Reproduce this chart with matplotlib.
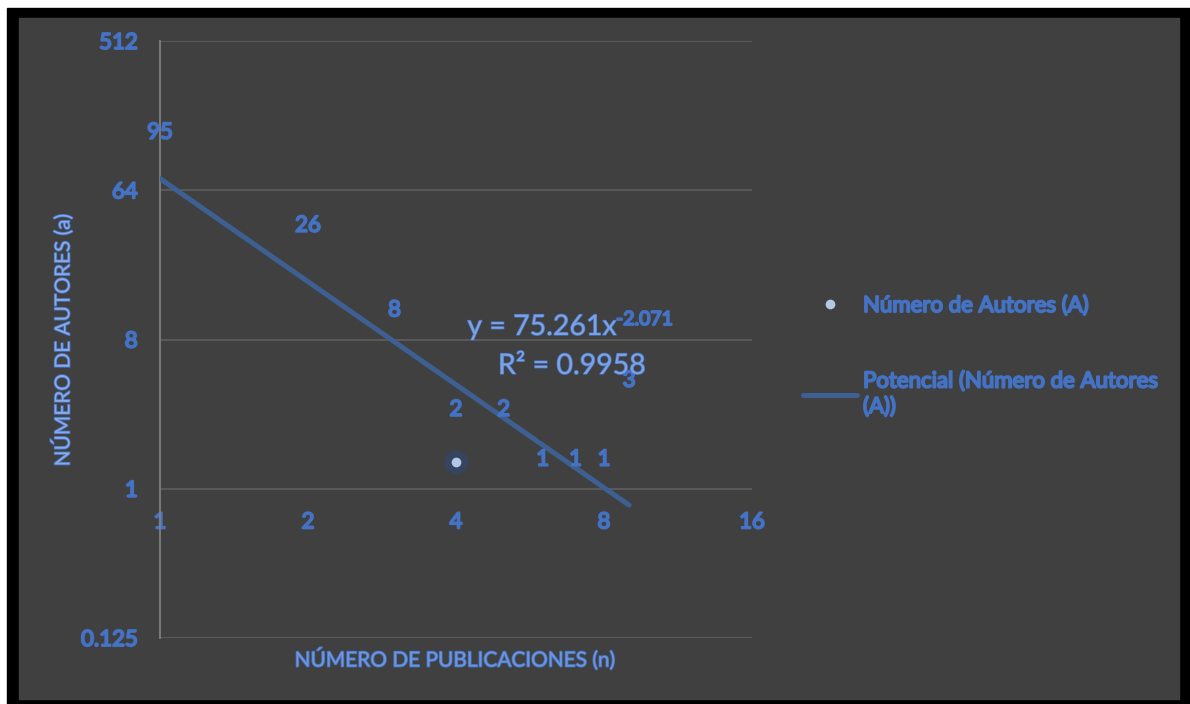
import matplotlib
matplotlib.use("Agg")
import matplotlib.pyplot as plt
import matplotlib.patheffects as pe
from matplotlib.patches import Rectangle
from matplotlib.ticker import NullLocator
import numpy as np

plt.rcParams['font.family'] = ['Lato', 'DejaVu Sans']

# --- datos
publicaciones = [1, 2, 3, 4, 5, 6, 7, 8, 9]
autores = [95, 26, 8, 2, 2, 1, 1, 1, 3]
punto_x = [4]
punto_y = [1.45]
coef_a = 75.261
coef_b = -2.071
r2 = 0.9958
x_ticks = [1, 2, 4, 8, 16]
x_tick_labels = ['1', '2', '4', '8', '16']
y_ticks = [0.125, 1, 8, 64, 512]
y_tick_labels = ['0.125', '1', '8', '64', '512']

azul = '#4472C4'
W, H = 1190, 704

# trazo para engrosar el texto (negrita)
negrita = [pe.withStroke(linewidth=1.4, foreground=azul)]

fig = plt.figure(figsize=(W / 100, H / 100), dpi=100, facecolor='white')
# marco negro + fondo gris
fig.patches.append(Rectangle((7 / W, 0), 1 - 7 / W, 1 - 8 / H, transform=fig.transFigure,
                             color='black', zorder=-3))
fig.patches.append(Rectangle((19 / W, 5 / H), (1179 - 19) / W, (699 - 18) / H,
                             transform=fig.transFigure, color='#404040', zorder=-2))

ax = fig.add_axes([160 / W, 1 - 638 / H, (752 - 160) / W, (638 - 41) / H])
ax.set_facecolor('none')
ax.set_xscale('log', base=2)
ax.set_yscale('log', base=2)
ax.set_xlim(1, 16)
ax.set_ylim(0.125, 512)

# el eje x cruza en y = 1
for s in ['top', 'right']:
    ax.spines[s].set_visible(False)
ax.spines['bottom'].set_position(('data', 1))
ax.spines['bottom'].set_visible(False)
ax.spines['left'].set_color('#808080')
ax.spines['left'].set_linewidth(1.3)

ax.set_xticks(x_ticks)
ax.set_xticklabels(x_tick_labels)
ax.set_yticks(y_ticks)
ax.set_yticklabels(y_tick_labels)
ax.xaxis.set_minor_locator(NullLocator())
ax.yaxis.set_minor_locator(NullLocator())
ax.tick_params(axis='both', length=0, labelcolor=azul, labelsize=16)
ax.tick_params(axis='x', pad=17)
ax.tick_params(axis='y', pad=16)
for lab in ax.get_xticklabels() + ax.get_yticklabels():
    lab.set_path_effects(negrita)

ax.yaxis.grid(True, color='#5A5A5A', lw=1.4)
ax.set_axisbelow(True)

# linea de tendencia potencial
xs = np.geomspace(min(publicaciones), max(publicaciones), 60)
linea, = ax.plot(xs, coef_a * xs ** coef_b, color='#3E5F92', lw=3.6,
                 solid_capstyle='round', label='Potencial (Número de Autores\n(A))', zorder=3)

# punto resaltado
ax.plot(punto_x, punto_y, 'o', ms=17, color='#2C4A7A', alpha=0.55, mec='none', zorder=4)
punto, = ax.plot(punto_x, punto_y, 'o', ms=7, color='#B4C7E7', mec='none',
                 label='Número de Autores (A)', zorder=5)

# etiquetas de datos
for x, v in zip(publicaciones, autores):
    ax.annotate(str(v), (x, v), xytext=(0, 21), textcoords='offset points',
                ha='center', va='center', fontsize=16, color=azul,
                annotation_clip=False, zorder=6, path_effects=negrita)

# ecuacion
efecto = [pe.withStroke(linewidth=1.0, foreground=azul)]
fig.text(617 / W, 1 - 335 / H, f"y = {coef_a}x", ha='right', va='baseline', fontsize=20.5,
         color='#7EA1E0', path_effects=efecto)
fig.text(616 / W, 1 - 325 / H, f"{coef_b}", ha='left', va='baseline', fontsize=14,
         color=azul, path_effects=negrita)
fig.text(498 / W, 1 - 374 / H, f"R² = {r2}", ha='left', va='baseline', fontsize=20.5,
         color='#7EA1E0', path_effects=efecto)

# titulos de ejes
efecto_t = [pe.withStroke(linewidth=1.2, foreground=azul)]
fig.text(455 / W, 1 - 659 / H, 'NÚMERO DE PUBLICACIONES (n)', ha='center', va='center',
         fontsize=15, color='#6F95DA', path_effects=efecto_t)
fig.text(62 / W, 1 - 340 / H, 'NÚMERO DE AUTORES (a)', ha='center', va='center',
         rotation=90, fontsize=15, color='#8AAAE3', path_effects=efecto_t)

# leyenda
leg = fig.legend(handles=[punto, linea], loc='upper left',
                 bbox_to_anchor=(783 / W, 1 - 276 / H), bbox_transform=fig.transFigure,
                 frameon=False, fontsize=16, handlelength=2.45, handletextpad=0.25,
                 labelspacing=2.5)
for t in leg.get_texts():
    t.set_color(azul)
    t.set_linespacing(1.35)
    t.set_path_effects(negrita)

fig.savefig('out.png', dpi=100, facecolor='white')
